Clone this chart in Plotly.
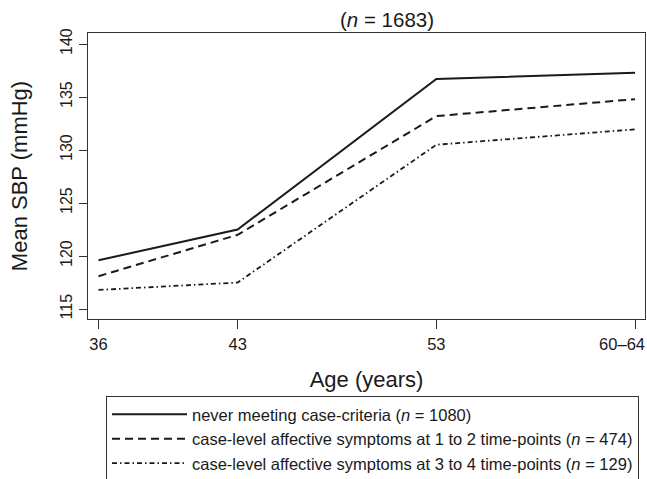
import plotly.graph_objects as go

ages = [36, 43, 53, 63]
age_labels = ["36", "43", "53", "60–64"]
never = [119.6, 122.5, 136.7, 137.3]
one_two = [118.1, 122.0, 133.2, 134.8]
three_four = [116.8, 117.5, 130.5, 131.95]
names = [
    "never meeting case-criteria (<i>n</i> = 1080)",
    "case-level affective symptoms at 1 to 2 time-points (<i>n</i> = 474)",
    "case-level affective symptoms at 3 to 4 time-points (<i>n</i> = 129)",
]
y_ticks = [115, 120, 125, 130, 135, 140]

FONT = "Liberation Sans, Arial, Helvetica, sans-serif"
INK = "#1a1a1a"
XRANGE = [35.47, 63.5]
PLOT_W = 647 - 88 - 2
# the last label is set a little left of its tick, as in the original
LABEL_OFFSET = 13 * (XRANGE[1] - XRANGE[0]) / PLOT_W

fig = go.Figure()
styles = [
    dict(dash="solid", width=2),
    dict(dash="8px,5px", width=2),
    dict(dash="5px,3px,1.5px,3px", width=1.8),
]
for i, (vals, nm, st) in enumerate(zip([never, one_two, three_four], names, styles)):
    fig.add_trace(go.Scatter(
        x=ages, y=vals, mode="lines", name=nm, legendgroup=f"g{i}",
        line=dict(color=INK, **st),
    ))
# carrier so the secondary x axis (holding the last tick label) gets drawn
fig.add_trace(go.Scatter(
    x=ages[-1:], y=never[-1:], xaxis="x2", yaxis="y", mode="lines",
    line=dict(color="rgba(0,0,0,0)", width=0), showlegend=False, hoverinfo="skip",
))

fig.update_layout(
    width=647, height=479,
    margin=dict(l=88, r=2, t=33, b=160, autoexpand=False),
    paper_bgcolor="white", plot_bgcolor="white",
    font=dict(family=FONT, color=INK, size=16),
    showlegend=True,
    title=dict(text="(<i>n</i> = 1683)", x=387/647, xref="container", xanchor="center",
               y=1 - 20/479, yref="container", yanchor="middle",
               font=dict(size=20.5, family=FONT, color=INK)),
    legend=dict(
        x=18/557, xanchor="left", xref="paper",
        y=1 - 396/479, yanchor="top", yref="container",
        bordercolor="#333", borderwidth=1, bgcolor="white",
        font=dict(size=16.5, family=FONT, color=INK),
        itemwidth=75, tracegroupgap=0, traceorder="normal",
    ),
    xaxis=dict(
        range=XRANGE, tickvals=ages, ticktext=age_labels[:-1] + [""],
        showgrid=False, zeroline=False, showline=True, mirror=True,
        linecolor="#333", linewidth=1.3, ticks="outside", ticklen=9,
        tickcolor="#333", tickwidth=1.3, tickfont=dict(size=16.5),
        ticklabelstandoff=1,
        title=dict(text="Age (years)", font=dict(size=22), standoff=19),
    ),
    xaxis2=dict(
        range=[XRANGE[0] + LABEL_OFFSET, XRANGE[1] + LABEL_OFFSET],
        overlaying="x", anchor="y", side="bottom",
        tickvals=ages[-1:], ticktext=age_labels[-1:],
        showgrid=False, zeroline=False, showline=False,
        ticks="outside", ticklen=9, tickcolor="rgba(0,0,0,0)",
        tickfont=dict(size=16.5), ticklabelstandoff=1,
        ticklabeloverflow="allow",
    ),
    yaxis=dict(
        range=[114.06, 141.04], tickvals=y_ticks,
        showgrid=False, zeroline=False, showline=True, mirror=True,
        linecolor="#333", linewidth=1.3, ticks="outside", ticklen=8,
        tickcolor="#333", tickwidth=1.3, tickfont=dict(size=16), tickangle=-90,
        ticklabelstandoff=0,
        title=dict(text="Mean SBP (mmHg)", font=dict(size=22), standoff=24),
    ),
)

fig.write_html(
    "out.html",
    config={"displayModeBar": False},
    post_script="document.body.style.margin='0';document.body.style.padding='0';",
)
